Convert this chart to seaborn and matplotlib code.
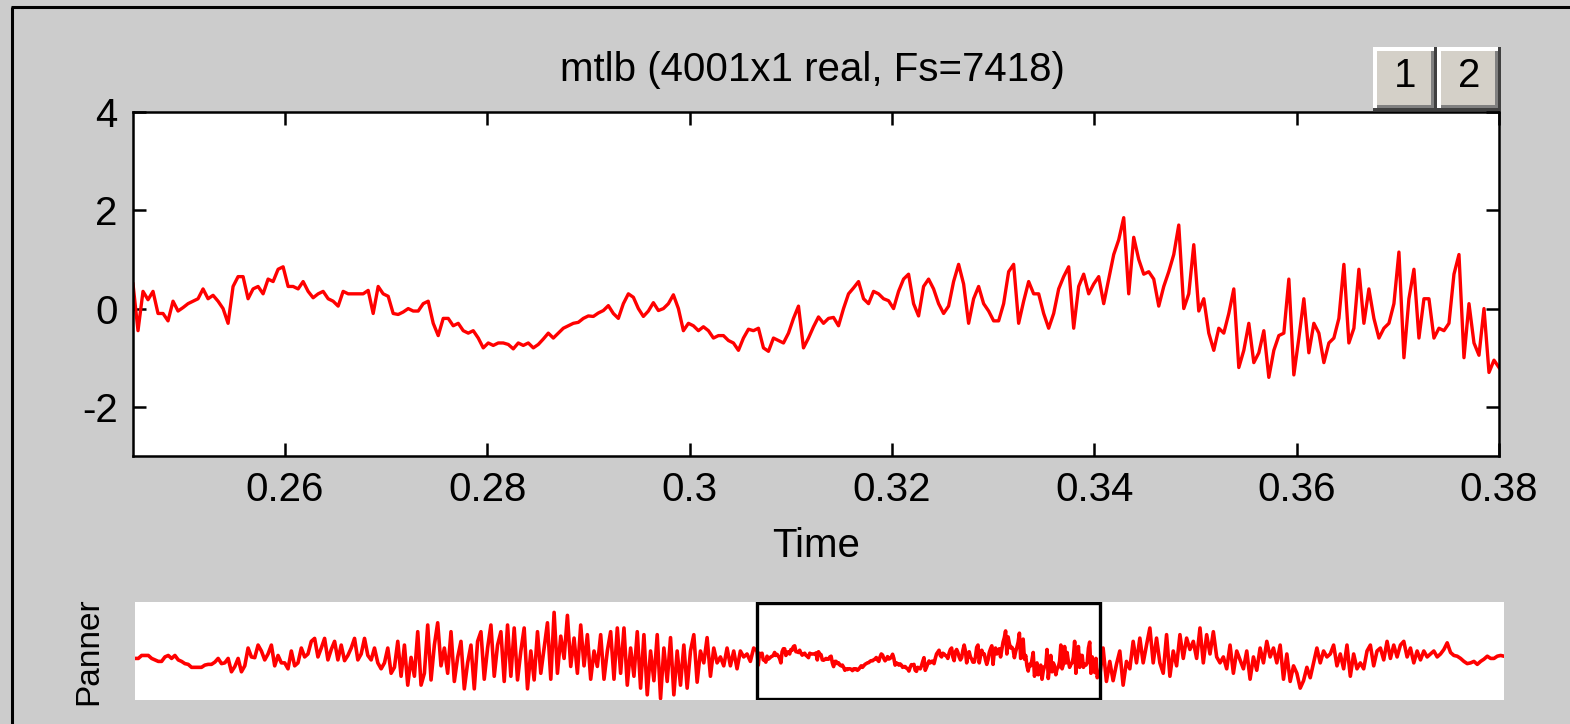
import numpy as np
import matplotlib
matplotlib.use("Agg")
import matplotlib.pyplot as plt
import seaborn as sns
from matplotlib.patches import Rectangle

# ---------------- data ----------------
FS = 7418
N_TOTAL = 4001
title_text = "mtlb (4001x1 real, Fs=7418)"
x_label = "Time"
panner_label = "Panner"
view_start, view_end = 0.245, 0.38
xtick_values = [0.26, 0.28, 0.30, 0.32, 0.34, 0.36, 0.38]
xtick_labels = ["0.26", "0.28", "0.3", "0.32", "0.34", "0.36", "0.38"]
ytick_values = [-2, 0, 2, 4]
ytick_labels = ["-2", "0", "2", "4"]
button_labels = ["1", "2"]

# signal inside the zoomed view (0.245 .. 0.38 s)
view_values = [
    0.5, -0.45, 0.35, 0.18, 0.35, -0.1, -0.1, -0.25, 0.15, -0.05,
    0.02, 0.1, 0.15, 0.2, 0.4, 0.2, 0.27, 0.15, 0.0, -0.3,
    0.45, 0.65, 0.65, 0.2, 0.4, 0.45, 0.3, 0.6, 0.55, 0.8,
    0.85, 0.45, 0.45, 0.4, 0.55, 0.35, 0.22, 0.3, 0.35, 0.2,
    0.15, 0.05, 0.35, 0.3,
    0.3, 0.3, 0.3, 0.37, -0.1, 0.45, 0.3, 0.25, -0.1, -0.12,
    -0.07, 0.0, -0.05, -0.05, 0.1, 0.15, -0.3, -0.55, -0.2, -0.2,
    -0.35, -0.3, -0.45, -0.5, -0.45, -0.6, -0.8, -0.7, -0.75, -0.7,
    -0.7, -0.73, -0.82, -0.7, -0.75, -0.7, -0.8, -0.73, -0.62, -0.5,
    -0.6, -0.5, -0.4, -0.35, -0.3, -0.28, -0.2, -0.15,
    -0.16, -0.09, -0.04, 0.06, -0.1, -0.2, 0.1, 0.3, 0.23, 0.0,
    -0.16, -0.05, 0.12, -0.04, 0.0, 0.1, 0.28, 0.0, -0.45, -0.3,
    -0.35, -0.45, -0.37, -0.45, -0.6, -0.55, -0.55, -0.65, -0.7, -0.85,
    -0.6, -0.42, -0.45, -0.4, -0.8, -0.87, -0.6, -0.65, -0.7, -0.5,
    -0.2, 0.05, -0.8, -0.6, -0.37, -0.17,
    -0.3, -0.2, -0.18, -0.35, 0.0, 0.3, 0.42, 0.55, 0.2, 0.1,
    0.35, 0.3, 0.2, 0.16, 0.0, 0.35, 0.6, 0.7, 0.1, -0.15,
    0.45, 0.6, 0.4, 0.1, -0.1, 0.05, 0.55, 0.9, 0.5, -0.3,
    0.2, 0.45, 0.1, -0.05, -0.25, -0.25, 0.1, 0.75, 0.9, -0.3,
    0.15, 0.55, 0.3, 0.3, -0.1, -0.4,
    -0.1, 0.4, 0.65, 0.85, -0.4, 0.45, 0.7, 0.3, 0.5, 0.65,
    0.1, 0.6, 1.1, 1.4, 1.85, 0.3, 1.45, 1.0, 0.7, 0.75,
    0.6, 0.05, 0.45, 0.75, 1.1, 1.7, 0.0, 0.3, 1.3, -0.05,
    0.2, -0.5, -0.85, -0.4, -0.5, -0.1, 0.4, -1.2, -0.85, -0.3,
    -1.1, -0.9, -0.45, -1.4, -0.85,
    -0.55, -0.5, 0.6, -1.35, -0.6, 0.2, -0.9, -0.3, -0.5, -1.1,
    -0.7, -0.6, -0.2, 0.9, -0.7, -0.4, 0.8, -0.3, 0.4, -0.2,
    -0.6, -0.4, -0.3, 0.1, 1.15, -1.0, 0.2, 0.8, -0.6, 0.2,
    0.2, -0.6, -0.4, -0.45, -0.3, 0.7, 1.1, -1.0, 0.1, -0.7,
    -0.95, 0.0, -1.3, -1.05, -1.2,
]

# signal before the view (0 .. 0.245 s), as seen in the panner
panner_before = [
    0.0, 0.0, 0.2, 0.2, 0.2, 0.0, -0.1, -0.2, -0.2, 0.1,
    0.2, 0.0, 0.2, -0.1, -0.2, -0.35, -0.4, -0.6, -0.6, -0.6,
    -0.6, -0.45, -0.4, -0.4, -0.25, 0.0, -0.35, -0.3, 0.0, -0.9,
    -0.55, 0.0, -0.9, -0.5, 0.7, 0.1, 0.05, 0.9, 0.5, -0.1,
    0.3, 0.9, -0.5, 0.2, -0.3, -0.3, -0.7, 0.5, -0.5, -0.3,
    0.7, 0.1, 0.3, 1.15, 1.35, 0.1, 0.7, 1.35, -0.1, 0.6,
    1.15, -0.1, 0.9, -0.15, 0.2, 0.7, 1.35, -0.1, 0.3, 1.35,
    0.2, -0.1, 0.7, -0.3, -0.7, -0.3, 0.7, -1.0, -0.6, 1.15,
    -1.2, 0.9, -1.8, 0.07, -1.2, 1.8, -1.8, -1.0, 2.25, -1.45,
    0.9, 2.4, -0.5, 0.7, -1.0, 1.8, -1.55, 0.07, 1.15, -2.05,
    -0.3, 0.9, -2.05, 1.15, 1.8, -1.4, 0.7, 2.25, -1.2, 0.9,
    1.8, -1.55, 2.25, -1.2, 2.05, -1.45, 0.5, 2.05, -2.05, 0.5,
    -1.45, 1.8, -1.0, 0.7, 2.4, -1.4, 3.1, -1.0, 1.5, 0.0,
    2.9, -0.54, 1.37, -1.0, 2.25, -0.5, 1.6,
    -1.4, 0.5, -0.54, 1.6, -1.4, 0.5, 1.8, -1.4, 2.05, -1.0,
    2.05, -1.8, 0.7, -1.2, 1.8, -2.0, 1.6, -2.45, 0.5, -1.5,
    1.6, -2.7, 0.7, -1.55, 1.4, -2.45, 0.5, -1.8, 0.9, -2.0,
    0.5, 1.6, -1.6, 0.5, -0.3, 1.4, -1.2, 0.7, -0.3, 0.1,
    -0.5, 0.7, -0.5, 0.5, -0.7, 0.5, 0.1, 0.3, -0.2, 0.7,
]

# signal after the view (0.38 .. end), as seen in the panner
panner_after = [
    0.7, -1.55, -0.2, -1.5, -0.4, 0.5, -1.8, -0.2, -0.7, 1.15,
    -0.3, 1.37, -0.3, 0.9, 2.05, -0.3, 1.37, -0.3, -1.0, 1.6,
    -1.2, 0.5, -0.5, 1.6, 0.0, 1.37, 0.6, 1.15, 0.0, 2.05,
    -0.3, 1.6, 0.3, 1.8, 0.1, -0.3, 0.1, -0.7, 0.9, -1.0,
    0.5, -0.1, -0.7, 0.5, -1.4, 0.1, -0.8, 0.7, -0.3, 1.15,
    0.1, 0.7, -0.3, 0.9, -1.4, 0.3, -1.55, -0.5, -1.0, -2.0,
    -1.5, -0.6, -1.3, -0.3, 0.7, -0.3, 0.5, 0.1, 0.3, 0.9,
    -0.5, 0.3, -0.7, 0.9, -1.2, 0.3, -0.7, -0.3, -0.7, 0.5,
    0.9, -0.5, 0.5, 0.7, -0.1, 1.15, 0.0, 0.9, 0.1, 0.9,
    1.15, 0.1, 0.7, -0.3, 0.5, -0.1, 0.5, 0.1, 0.3, 0.5,
    0.1, 0.3, 0.6, 1.05, 0.4, 0.2, 0.15, 0.0, -0.2, -0.35,
    -0.3, -0.2, -0.4, -0.2, -0.05, 0.15, 0.0, 0.0, 0.15, 0.2,
    0.15,
]

# ---------------- figure ----------------
plt.rcParams['font.family'] = ['Liberation Sans', 'DejaVu Sans']
W, H = 1570, 724
BG = '#cccccc'
RED = '#ff0000'
FONT = 29

fig = plt.figure(figsize=(W / 100, H / 100), dpi=100, facecolor=BG)


def frac(l, t, r, b):
    return [l / W, 1 - b / H, (r - l) / W, (b - t) / H]


ov = fig.add_axes([0, 0, 1, 1], zorder=-1)
ov.set_xlim(0, W)
ov.set_ylim(H, 0)
ov.axis('off')

ax = fig.add_axes(frac(133, 112, 1499, 456))
ax2 = fig.add_axes(frac(135, 602, 1504, 700))

# frame border
ov.plot([12, 12], [7, H], color='black', lw=2.2, solid_capstyle='butt')
ov.plot([11, W], [7, 7], color='black', lw=2.2, solid_capstyle='butt')

# main view
t_view = np.linspace(view_start, view_end, len(view_values))
sns.lineplot(x=t_view, y=view_values, ax=ax, color=RED, lw=2.4,
             estimator=None, sort=False)
ax.set_xlim(view_start, view_end)
ax.set_ylim(-3, 4)
ax.set_facecolor('white')
ax.set_xticks(xtick_values)
ax.set_xticklabels(xtick_labels)
ax.set_yticks(ytick_values)
ax.set_yticklabels(ytick_labels)
ax.tick_params(direction='in', length=9.5, width=1.8, top=True, right=True,
               labelsize=FONT, colors='black')
ax.tick_params(axis='x', pad=11)
ax.tick_params(axis='y', pad=11)
for s in ax.spines.values():
    s.set_linewidth(1.8)
    s.set_color('black')
ax.set_xlabel(x_label, fontsize=FONT, labelpad=13)
ax.set_ylabel('')

ov.text(812, 70, title_text, ha='center', va='center', fontsize=FONT)

# buttons
for i, lab in enumerate(button_labels):
    x0 = 1373 + 64 * i
    ov.add_patch(Rectangle((x0, 47), 64, 64, fc='#404040', ec='none'))
    ov.add_patch(Rectangle((x0, 47), 61, 61, fc='white', ec='none'))
    ov.add_patch(Rectangle((x0 + 4, 51), 57, 57, fc='#808080', ec='none'))
    ov.add_patch(Rectangle((x0 + 4, 51), 54, 54, fc='#d4d0c8', ec='none'))
    ov.text(x0 + 32, 76, lab, ha='center', va='center', fontsize=FONT)

# panner
t_before = np.linspace(0, view_start, len(panner_before) + 1)[:-1]
t_after = np.linspace(view_end, (N_TOTAL - 1) / FS, len(panner_after) + 1)[1:]
t_all = np.concatenate([t_before, t_view, t_after])
v_all = np.concatenate([panner_before, view_values, panner_after])
sns.lineplot(x=t_all, y=v_all, ax=ax2, color=RED, lw=2.6,
             estimator=None, sort=False)
ax2.set_xlim(0, (N_TOTAL - 1) / FS)
ax2.set_ylim(-2.8, 3.8)
ax2.set_facecolor('white')
ax2.set_xticks([])
ax2.set_yticks([])
for s in ax2.spines.values():
    s.set_visible(False)
ax2.set_xlabel('')
ax2.set_ylabel(panner_label, fontsize=24, labelpad=22)
ax2.vlines(view_start, min(view_values[:2]), max(view_values[:2]),
           color='cyan', lw=2.2, zorder=4)
ax2.vlines(view_end, min(view_values[-3:]), max(view_values[-3:]),
           color='cyan', lw=2.2, zorder=4)
ax2.axvspan(view_start, view_end, ymin=0.015, ymax=0.985, fill=False,
            ec='black', lw=2.4, zorder=5)

fig.savefig('out.png', dpi=100, facecolor=BG)
